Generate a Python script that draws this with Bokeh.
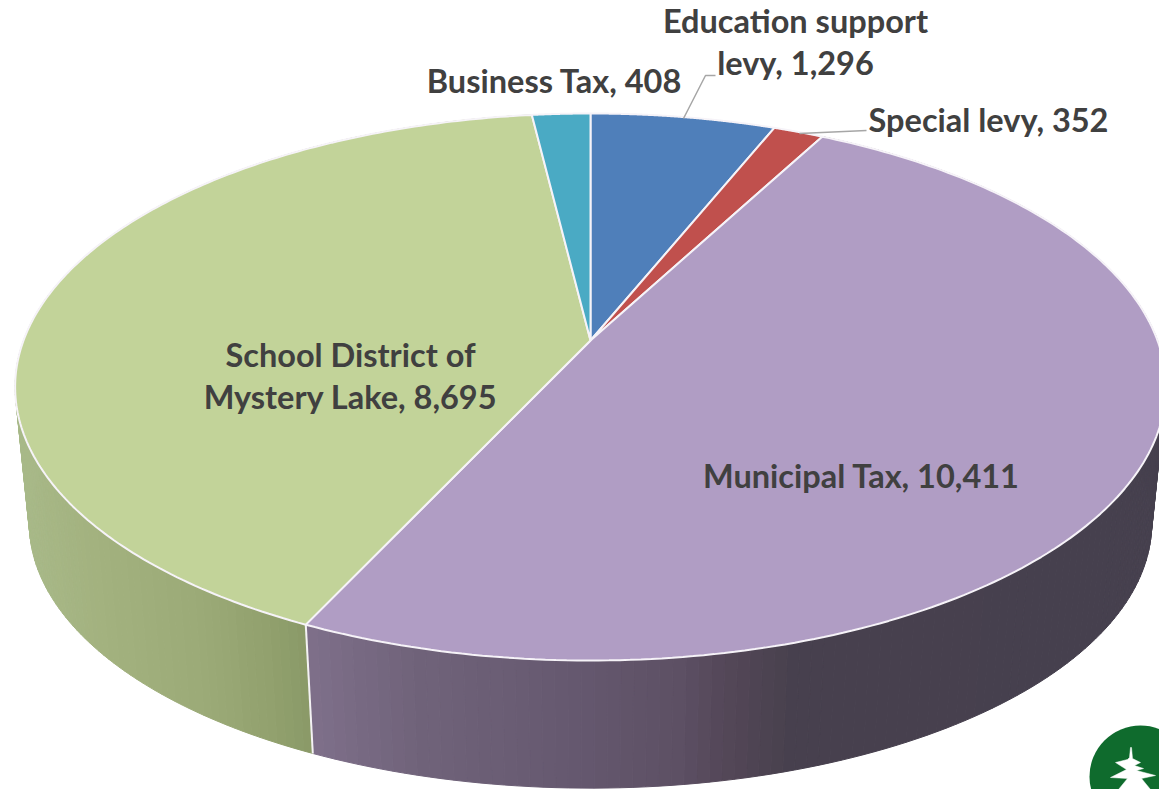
import numpy as np
from bokeh.plotting import figure
from bokeh.models import Range1d
from bokeh.core.properties import value
from bokeh.embed import file_html
from bokeh.resources import INLINE

# ---- data (clockwise from 12 o'clock)
categories = ["Education support levy", "Special levy", "Municipal Tax",
              "School District of Mystery Lake", "Business Tax"]
values = [1296, 352, 10411, 8695, 408]
top_colors = ["#4f7fba", "#c0504d", "#b09dc4", "#c2d399", "#4aaac4"]

# ---- projection of the tilted disc
K = 0.17
TOP = dict(cx=590.0, cy=340.0, a=567.0, b=265.6)
BOT = dict(cx=590.0, cy=478.0, a=553.0, b=257.0)


def project(theta, ring):
    u, v = np.sin(theta), np.cos(theta)
    d = 1 + K * v
    return ring["cx"] + ring["a"] * u / d, ring["cy"] - ring["b"] * v / d


frac = np.array(values, dtype=float) / sum(values)
edges = np.concatenate([[0.0], np.cumsum(frac)]) * 2 * np.pi

# wall shading, as colour stops along the screen x
wall_stops = {
    2: ([300, 420, 560, 680, 720, 790, 1160],
        [(128, 113, 140), (112, 99, 122), (103, 90, 113), (93, 80, 100),
         (85, 72, 89), (72, 65, 78), (70, 64, 78)]),
    3: ([15, 100, 200, 270, 315],
        [(169, 186, 138), (163, 178, 127), (156, 171, 120), (146, 161, 110), (137, 153, 103)]),
}


def shade(x, stops):
    xs, cols = stops
    c = [int(np.interp(x, xs, [col[i] for col in cols])) for i in range(3)]
    return "#%02x%02x%02x" % tuple(c)


p = figure(width=1159, height=789, x_range=Range1d(0, 1159), y_range=Range1d(789, 0),
           output_backend="svg", toolbar_location=None, min_border=0,
           outline_line_color=None, background_fill_color="white", border_fill_color="white")
p.axis.visible = False
p.grid.visible = False

# side walls
xs, ys, cs = [], [], []
for idx in (2, 3):
    th = np.linspace(edges[idx], edges[idx + 1], 161)
    for t0, t1 in zip(th[:-1], th[1:]):
        x0, y0 = project(t0, TOP)
        x1, y1 = project(t1, TOP)
        x2, y2 = project(t1, BOT)
        x3, y3 = project(t0, BOT)
        xs.append([x0, x1, x2, x3])
        ys.append([y0, y1, y2, y3])
        cs.append(shade((x0 + x1 + x2 + x3) / 4, wall_stops[idx]))
p.patches(xs, ys, fill_color=cs, line_color=cs, line_width=1)

# divider between the walls
tx, ty = project(edges[3], TOP)
bx, by = project(edges[3], BOT)
p.line([tx, bx], [ty, by], line_color="#f4f2f4", line_width=2)

# top faces
for i, col in enumerate(top_colors):
    th = np.linspace(edges[i], edges[i + 1], 200)
    x, y = project(th, TOP)
    p.patch(np.r_[TOP["cx"], x], np.r_[TOP["cy"], y], fill_color=col,
            line_color="#f6f3f8", line_width=2)

# leader lines
p.line([683, 705, 715], [118, 75, 75], line_color="#a6a6a6", line_width=1.5)
p.line([799, 866], [133, 130], line_color="#a6a6a6", line_width=1.5)

# labels
labels = [
    ("Education support", 795, 20, "center"),
    ("levy, 1,296", 795, 62, "center"),
    ("Business Tax, 408", 554, 80, "center"),
    ("Special levy, 352", 988, 119, "center"),
    ("School District of", 350, 354, "center"),
    ("Mystery Lake, 8,695", 350, 396, "center"),
    ("Municipal Tax, 10,411", 861, 475, "center"),
]
p.text([l[1] for l in labels], [l[2] for l in labels], text=[l[0] for l in labels],
       text_font=value("Lato"), text_font_style="bold", text_font_size="32.5px",
       text_color="#404040", text_align="center", text_baseline="middle")

# logo
p.circle([1140], [776], radius=51, fill_color="#0f6b2d", line_color=None)
tree_x = [1130, 1131, 1132, 1140, 1134, 1143, 1136, 1155, 1141, 1150, 1140, 1122, 1118, 1127,
          1110, 1126, 1115, 1127, 1129]
tree_y = [747, 747, 758, 762, 765, 768, 770, 775, 778, 789, 789, 789, 789, 778,
          777, 769, 762, 759, 757]
p.patch(tree_x, tree_y, fill_color="white", line_color="white", line_width=0.5)

open("out.html", "w").write(file_html(p, INLINE))
